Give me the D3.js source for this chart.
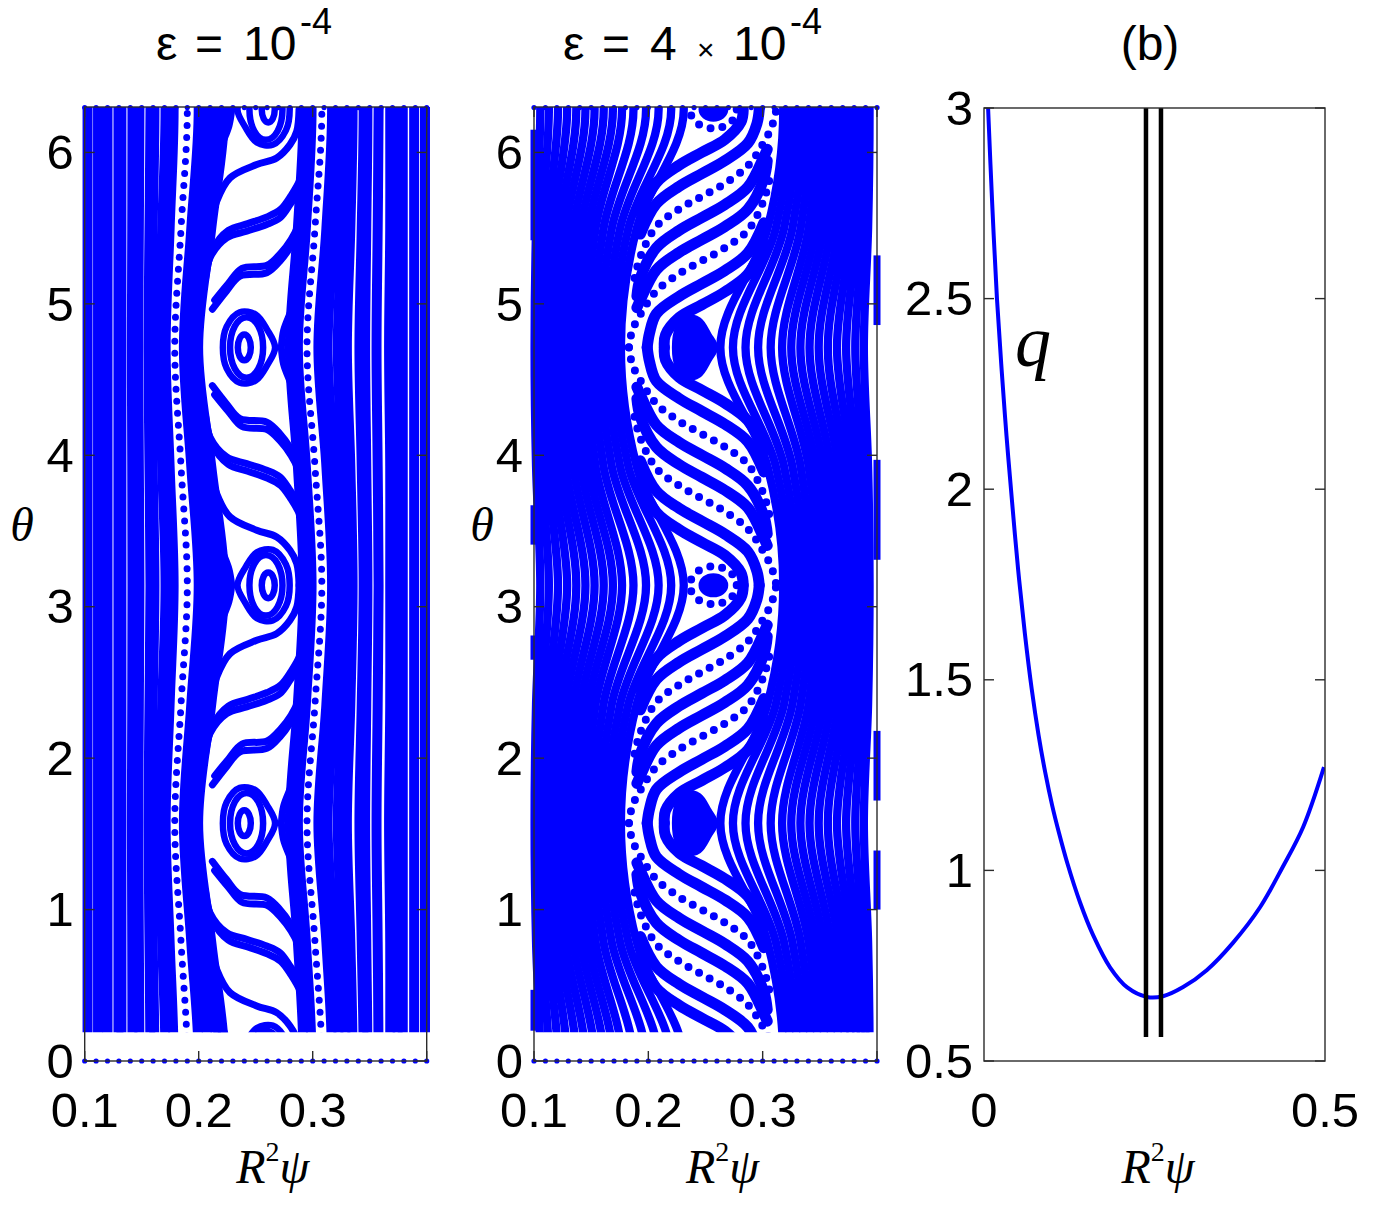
<!DOCTYPE html>
<html><head><meta charset="utf-8"><title>Poincaré sections and q profile</title>
<script src="https://d3js.org/d3.v7.min.js"></script>
<style>html,body{margin:0;padding:0;background:#fff;}</style>
</head><body>
<svg id="chart" width="1381" height="1209" xmlns="http://www.w3.org/2000/svg"></svg>
<script>
const PI = Math.PI;

// ---------------- DATA ----------------
// panel (b): safety-factor profile q(R^2 psi)
const qPsi = [0.006,0.012,0.019,0.026,0.033,0.041,0.050,0.060,0.070,0.080,0.090,0.100,0.110,0.122,0.141,0.160,0.185,0.210,0.239,0.2625,0.292,0.327,0.365,0.405,0.438,0.468,0.4985];
const qVal = [3.00,2.75,2.50,2.31,2.14,1.97,1.79,1.62,1.475,1.355,1.255,1.170,1.098,1.020,0.915,0.830,0.745,0.693,0.668,0.670,0.694,0.739,0.810,0.904,1.009,1.114,1.271];
const resonantPsi = [0.2375, 0.2595];
const resonantQ = [0.563, 3.0];

// tick labels
const thetaTicks = [0,1,2,3,4,5,6];
const psiTicks = [0.1,0.2,0.3,0.4];
const psiTickLabels = ["0.1","0.2","0.3"];
const qTicks = [0.5,1,1.5,2,2.5,3];
const qTickLabels = ["0.5","1","1.5","2","2.5","3"];
const bPsiTicks = [0,0.5];
const bPsiTickLabels = ["0","0.5"];

// Poincaré sections: initial conditions (row of points at theta = 0 and 2pi)
const startPsi = [0.10,0.11,0.12,0.13,0.14,0.15,0.16,0.17,0.18,0.19,0.20,0.21,0.22,0.23,0.24,0.25,0.26,0.27,0.28,0.29,0.30,0.31,0.32,0.33,0.34,0.35,0.36,0.37,0.38,0.39,0.40];
const thetaStart = 0.19; // lowest theta reached by the plotted orbits

// ----- eps = 1e-4 -----
// band orbits: psi at theta = 0/pi/2pi, at theta = pi/4 (odd quarters), at theta = pi/2 / 3pi/2
const bands1 = [
 [0.1025,0.1025,0.1025],[0.1117,0.1117,0.1117],[0.1200,0.1200,0.1200],[0.1296,0.1296,0.1296],
 [0.1322,0.1322,0.1322],[0.1419,0.1417,0.1414],[0.1480,0.1475,0.1470],[0.1577,0.1568,0.1560],
 [0.1612,0.1596,0.1580],[0.1709,0.1680,0.1650],[0.1780,0.1745,0.1710],
 [0.2000,0.1935,0.1870],[0.2080,0.2000,0.1920],[0.2160,0.2060,0.1960],[0.2225,0.2110,0.1995],
 [0.2920,0.2870,0.2800],[0.2990,0.2940,0.2870],[0.3170,0.3120,0.3050],[0.3230,0.3190,0.3130],
 [0.3290,0.3260,0.3220],[0.3350,0.3330,0.3300],[0.3447,0.3430,0.3410],[0.3480,0.3470,0.3460],
 [0.3578,0.3570,0.3560],[0.3680,0.3680,0.3670],[0.3745,0.3745,0.3740],[0.3790,0.3790,0.3790],
 [0.3890,0.3890,0.3890],[0.3985,0.3985,0.3985]
];
const dottedBands1 = [[0.1900,0.1845,0.1790],[0.3080,0.3020,0.2950]];
// meander curves between the island chains, read for pi <= theta <= 3pi/2
const stripes1 = [
 [[0.212,4.46],[0.2243,4.341],[0.2362,4.242],[0.2597,4.219],[0.2713,4.142],[0.2801,4.053],[0.286,3.967],[0.289,3.85]],
 [[0.214,4.40],[0.226,4.29],[0.238,4.19],[0.260,4.17],[0.272,4.09],[0.281,4.00],[0.287,3.91],[0.290,3.80]],
 [[0.204,4.33],[0.2099,4.121],[0.2246,3.989],[0.2421,3.945],[0.2597,3.901],[0.2713,3.857],[0.2801,3.769],[0.2889,3.659],[0.291,3.55]],
 [[0.206,4.26],[0.212,4.07],[0.226,3.94],[0.243,3.895],[0.260,3.85],[0.272,3.80],[0.281,3.71],[0.289,3.60],[0.291,3.50]],
 [[0.209,3.95],[0.2158,3.747],[0.2275,3.593],[0.2509,3.505],[0.2684,3.461],[0.2801,3.373],[0.286,3.285],[0.288,3.14]],
 [[0.2725,4.712],[0.2745,4.60],[0.281,4.47],[0.287,4.33]],
 [[0.2795,4.712],[0.281,4.60],[0.286,4.50],[0.290,4.38]],
 [[0.229,3.1416],[0.2265,3.25],[0.220,3.38],[0.214,3.52]],
 [[0.2215,3.1416],[0.2205,3.25],[0.215,3.35],[0.210,3.46]]
];
// island rings (closed), with the theta periods in which they repeat
const rings1 = [
 {pts:[[0.2212,4.712],[0.2245,4.85],[0.236,4.945],[0.250,4.93],[0.260,4.83],[0.267,4.712],[0.260,4.594],[0.250,4.494],[0.236,4.479],[0.2245,4.574]], shifts:[0,-PI]},
 {pts:[[0.2798,3.1416],[0.2765,3.280],[0.265,3.375],[0.251,3.360],[0.241,3.260],[0.234,3.1416],[0.241,3.024],[0.251,2.924],[0.265,2.909],[0.2765,3.004]], shifts:[0,-PI,PI]}
];
// elliptic rings: [psi centre, theta centre, psi half-width, theta half-height]
const ellipses1 = [
 {e:[0.2400,4.712,0.0057,0.085], shifts:[0,-PI]},
 {e:[0.2420,4.712,0.0145,0.200], shifts:[0,-PI]},
 {e:[0.2610,3.1416,0.0057,0.085], shifts:[0,-PI,PI]},
 {e:[0.2590,3.1416,0.0145,0.200], shifts:[0,-PI,PI]}
];

// ----- eps = 4e-4 -----
const bands2 = [
 // right of the meander zone
 [0.318,0.3042,0.263],[0.324,0.3115,0.274],[0.330,0.3187,0.285],[0.336,0.326,0.296],[0.342,0.3332,0.307],
 [0.348,0.3402,0.317],[0.354,0.3467,0.325],[0.360,0.3532,0.333],[0.366,0.3597,0.341],[0.372,0.3662,0.349],
 [0.377,0.372,0.357],[0.382,0.3777,0.365],[0.386,0.3827,0.373],[0.390,0.3877,0.381],[0.3935,0.3922,0.3885],
 // left of the meander zone
 [0.231,0.1898,0.176],[0.220,0.1825,0.170],[0.209,0.1753,0.164],[0.198,0.168,0.158],[0.187,0.1608,0.152],
 [0.177,0.1538,0.146],[0.169,0.1473,0.140],[0.161,0.1408,0.134],[0.153,0.1343,0.128],[0.145,0.1278,0.122],
 [0.137,0.122,0.117],[0.129,0.1163,0.112],[0.121,0.1113,0.108],[0.113,0.1063,0.104],[0.1055,0.1018,0.1005]
];
const stripes2 = [
 [[0.214,4.712],[0.215,4.63],[0.227,4.515],[0.247,4.43],[0.267,4.345],[0.287,4.23],[0.301,4.03]],
 [[0.199,4.712],[0.201,4.62],[0.207,4.49],[0.227,4.375],[0.247,4.29],[0.267,4.205],[0.287,4.09],[0.301,3.89]],
 [[0.190,4.45],[0.193,4.40],[0.207,4.20],[0.227,4.085],[0.247,4.00],[0.267,3.915],[0.287,3.80],[0.301,3.60],[0.304,3.48]],
 [[0.190,4.374],[0.193,4.254],[0.207,4.054],[0.227,3.939],[0.247,3.854],[0.267,3.769],[0.287,3.654],[0.301,3.454],[0.304,3.404]],
 [[0.193,3.964],[0.207,3.764],[0.227,3.649],[0.247,3.564],[0.267,3.479],[0.287,3.364],[0.295,3.234],[0.297,3.1416]],
 [[0.193,3.824],[0.207,3.624],[0.227,3.509],[0.247,3.424],[0.267,3.339],[0.281,3.224],[0.283,3.1416]]
];
const dottedStripes2 = [
 [[0.183,4.712],[0.186,4.60],[0.195,4.47],[0.207,4.34],[0.227,4.225],[0.247,4.14],[0.267,4.055],[0.287,3.94],[0.301,3.74],[0.306,3.60]],
 [[0.188,4.254],[0.193,4.114],[0.207,3.914],[0.227,3.799],[0.247,3.714],[0.267,3.629],[0.287,3.514],[0.299,3.384],[0.308,3.254],[0.312,3.1416]]
];
const blobs2 = [
 {pts:[[0.2219,4.712],[0.2245,4.84],[0.2330,4.92],[0.2450,4.90],[0.2540,4.80],[0.2598,4.712],[0.2540,4.624],[0.2450,4.524],[0.2330,4.504],[0.2245,4.584]], shifts:[0,-PI]}
];
const coreEllipses2 = [{e:[0.2569,3.1416,0.0117,0.070], shifts:[0,-PI,PI]}];
const dottedEllipses2 = [{e:[0.2569,3.1416,0.0204,0.125], shifts:[0,-PI,PI]}];
const edgeLeft2 = [[5.42,6.15],[3.41,3.67],[2.65,2.81],[0.20,0.47]];
const edgeRight2 = [[4.86,5.32],[3.31,3.97],[1.72,2.18],[1.00,1.39]];

// ---------------- DRAWING ----------------
const svg = d3.select("#chart");
const defs = svg.append("defs");
const SANS = "'Liberation Sans', Arial, Helvetica, sans-serif";
const SERIF = "'Liberation Serif', 'Times New Roman', serif";
const BLUE = "#0000ff";
const FRAME = "#2b2b2b";
const TICKFS = 49;
const XTICK_Y = 1127;

const quarterMaps = [t => t, t => 3*PI - t, t => t - PI, t => 2*PI - t];
const expandQuarter = curves => curves.flatMap(c => quarterMaps.map(m => c.map(([p,t]) => [p, m(t)])));
const shiftAll = items => items.flatMap(it => it.shifts.map(s => ({...it, s})));
const phaseIdx = [0,1,2,1];
const bandNodes = b => d3.range(-1, 10).map(k => [b[phaseIdx[((k % 4) + 4) % 4]], k*PI/4]);

function drawPoincare(P) {
  const x = d3.scaleLinear().domain([0.1, 0.4]).range(P.xr);
  const y = d3.scaleLinear().domain([0, 6.3]).range([1061, 107]);
  const clipId = "clip-" + P.id;
  defs.append("clipPath").attr("id", clipId).append("rect")
    .attr("x", x(0.1) - 10).attr("y", y(6.3))
    .attr("width", x(0.4) - x(0.1) + 20).attr("height", y(thetaStart) - y(6.3));
  const g = svg.append("g");
  const gc = g.append("g").attr("clip-path", `url(#${clipId})`);
  const line = d3.line().x(d => x(d[0])).y(d => y(d[1])).curve(d3.curveCatmullRom.alpha(0.5));
  const closed = d3.line().x(d => x(d[0])).y(d => y(d[1])).curve(d3.curveCatmullRomClosed.alpha(0.5));

  gc.selectAll("path.band").data(P.bands).join("path").attr("class","band")
    .attr("d", b => line(bandNodes(b))).attr("fill","none")
    .attr("stroke", BLUE).attr("stroke-width", P.bandW);

  gc.selectAll("path.dband").data(P.dottedBands || []).join("path").attr("class","dband")
    .attr("d", b => line(bandNodes(b))).attr("fill","none")
    .attr("stroke", BLUE).attr("stroke-width", P.dotW).attr("stroke-linecap","round")
    .attr("stroke-dasharray", `0 ${P.dotGap}`);

  gc.selectAll("path.stripe").data(expandQuarter(P.stripes)).join("path").attr("class","stripe")
    .attr("d", line).attr("fill","none").attr("stroke", BLUE)
    .attr("stroke-width", P.stripeW).attr("stroke-linecap","round");

  gc.selectAll("path.dstripe").data(expandQuarter(P.dottedStripes || [])).join("path").attr("class","dstripe")
    .attr("d", line).attr("fill","none").attr("stroke", BLUE)
    .attr("stroke-width", P.dotW).attr("stroke-linecap","round")
    .attr("stroke-dasharray", `0 ${P.dotGap}`);

  gc.selectAll("path.ring").data(shiftAll(P.rings || [])).join("path").attr("class","ring")
    .attr("d", r => closed(r.pts.map(([p,t]) => [p, t + r.s])))
    .attr("fill","none").attr("stroke", BLUE).attr("stroke-width", P.ringW);

  gc.selectAll("path.blob").data(shiftAll(P.blobs || [])).join("path").attr("class","blob")
    .attr("d", r => closed(r.pts.map(([p,t]) => [p, t + r.s])))
    .attr("fill", BLUE).attr("stroke", BLUE).attr("stroke-width", 3);

  const ell = (sel, data, cls) => sel.selectAll("ellipse." + cls).data(shiftAll(data)).join("ellipse").attr("class", cls)
    .attr("cx", d => x(d.e[0])).attr("cy", d => y(d.e[1] + d.s))
    .attr("rx", d => x(d.e[0] + d.e[2]) - x(d.e[0]))
    .attr("ry", d => y(d.e[1] + d.s) - y(d.e[1] + d.s + d.e[3]));
  ell(gc, P.ellipses || [], "ring-e").attr("fill","none").attr("stroke", BLUE).attr("stroke-width", P.ringW);
  ell(gc, P.coreEllipses || [], "core-e").attr("fill", BLUE).attr("stroke", BLUE).attr("stroke-width", 3);
  ell(gc, P.dottedEllipses || [], "dot-e").attr("fill","none").attr("stroke", BLUE)
    .attr("stroke-width", P.dotW).attr("stroke-linecap","round").attr("stroke-dasharray", `0 ${P.dotGap}`);

  // orbit pieces lying on the side edges
  const edge = (data, psi) => g.selectAll(null).data(data).join("line")
    .attr("x1", x(psi)).attr("x2", x(psi)).attr("y1", d => y(d[0])).attr("y2", d => y(d[1]))
    .attr("stroke", BLUE).attr("stroke-width", 7);
  if (P.edgeLeft) edge(P.edgeLeft, 0.1);
  if (P.edgeRight) edge(P.edgeRight, 0.4);

  // starting points at theta = 0 and theta = 2pi
  g.selectAll("circle.start0").data(startPsi).join("circle").attr("class","start0")
    .attr("cx", d => x(d)).attr("cy", y(0)).attr("r", 2.6).attr("fill", BLUE);
  g.selectAll("circle.start1").data(startPsi).join("circle").attr("class","start1")
    .attr("cx", d => x(d)).attr("cy", y(2*PI) - 2).attr("r", 2.6).attr("fill", BLUE);

  // frame + ticks
  const [x0, x1] = x.range(), [y0, y1] = y.range();
  g.append("rect").attr("x", x0).attr("y", y1).attr("width", x1 - x0).attr("height", y0 - y1)
    .attr("fill","none").attr("stroke", FRAME).attr("stroke-width", 1.4);
  thetaTicks.forEach(t => {
    g.append("line").attr("x1", x0).attr("x2", x0 + 10).attr("y1", y(t)).attr("y2", y(t)).attr("stroke", FRAME).attr("stroke-width", 1.4);
    g.append("line").attr("x1", x1).attr("x2", x1 - 10).attr("y1", y(t)).attr("y2", y(t)).attr("stroke", FRAME).attr("stroke-width", 1.4);
  });
  psiTicks.forEach(p => {
    g.append("line").attr("x1", x(p)).attr("x2", x(p)).attr("y1", y0).attr("y2", y0 - 10).attr("stroke", FRAME).attr("stroke-width", 1.4);
    g.append("line").attr("x1", x(p)).attr("x2", x(p)).attr("y1", y1).attr("y2", y1 + 10).attr("stroke", FRAME).attr("stroke-width", 1.4);
  });
  g.selectAll("text.yt").data(thetaTicks).join("text").attr("class","yt")
    .attr("x", x0 - 11).attr("y", d => y(d)).attr("dy", "0.34em").attr("text-anchor","end")
    .attr("font-family", SANS).attr("font-size", TICKFS).text(d => d);
  g.selectAll("text.xt").data(psiTickLabels).join("text").attr("class","xt")
    .attr("x", (d,i) => x(psiTicks[i])).attr("y", XTICK_Y).attr("text-anchor","middle")
    .attr("font-family", SANS).attr("font-size", TICKFS).text(d => d);

  // axis labels
  g.append("text").attr("x", P.thetaX).attr("y", 541).attr("text-anchor","middle")
    .attr("font-family", SERIF).attr("font-style","italic").attr("font-size", 48).text("θ");
  psiLabel(g, (x0 + x1) / 2 + 17);

  // title pieces (main line baseline 60, exponent baseline 34)
  P.title.forEach(([txt, px, sup]) => g.append("text").attr("x", px).attr("y", sup ? 34 : 60)
    .attr("font-family", SANS).attr("font-size", sup ? 36 : (txt === "×" ? 30 : 48)).text(txt));
}

function psiLabel(g, cx) {
  const t = g.append("text").attr("x", cx).attr("y", 1183).attr("text-anchor","middle")
    .attr("font-family", SERIF).attr("font-size", 48);
  t.append("tspan").attr("font-style","italic").text("R");
  t.append("tspan").attr("font-size", 28).attr("dy", -22).text("2");
  t.append("tspan").attr("font-style","italic").attr("dy", 22).text("ψ");
}

drawPoincare({
  id: "p1", xr: [84.7, 426.7], bands: bands1, dottedBands: dottedBands1, stripes: stripes1,
  rings: rings1, ellipses: ellipses1,
  bandW: 10, stripeW: 7, ringW: 6.5, dotW: 7, dotGap: 12, thetaX: 22,
  title: [["ε",156,false],["=",195,false],["10",243,false],["-4",300,true]]
});
drawPoincare({
  id: "p2", xr: [534, 877], bands: bands2, stripes: stripes2, dottedStripes: dottedStripes2,
  blobs: blobs2, coreEllipses: coreEllipses2, dottedEllipses: dottedEllipses2,
  edgeLeft: edgeLeft2, edgeRight: edgeRight2,
  bandW: 8.3, stripeW: 11, ringW: 8, dotW: 8, dotGap: 12, thetaX: 482,
  title: [["ε",563,false],["=",602,false],["4",650,false],["×",697,false],["10",733,false],["-4",790,true]]
});

// ---------- panel (b) ----------
(function () {
  const x = d3.scaleLinear().domain([0, 0.5]).range([984, 1325]);
  const y = d3.scaleLinear().domain([0.5, 3]).range([1061, 108]);
  const g = svg.append("g");
  defs.append("clipPath").attr("id","clip-b").append("rect")
    .attr("x", 984).attr("y", 108).attr("width", 341).attr("height", 953);
  const gc = g.append("g").attr("clip-path","url(#clip-b)");
  const qData = qPsi.map((p, i) => [p, qVal[i]]);
  gc.append("path").datum(qData)
    .attr("d", d3.line().x(d => x(d[0])).y(d => y(d[1])).curve(d3.curveCatmullRom.alpha(0.5)))
    .attr("fill","none").attr("stroke", BLUE).attr("stroke-width", 4);
  gc.selectAll("line.res").data(resonantPsi).join("line").attr("class","res")
    .attr("x1", d => x(d)).attr("x2", d => x(d)).attr("y1", y(resonantQ[0])).attr("y2", y(resonantQ[1]))
    .attr("stroke","#000").attr("stroke-width", 4.5);
  g.append("rect").attr("x", 984).attr("y", 108).attr("width", 341).attr("height", 953)
    .attr("fill","none").attr("stroke", FRAME).attr("stroke-width", 1.4);
  qTicks.forEach(q => {
    g.append("line").attr("x1", 984).attr("x2", 994).attr("y1", y(q)).attr("y2", y(q)).attr("stroke", FRAME).attr("stroke-width", 1.4);
    g.append("line").attr("x1", 1325).attr("x2", 1315).attr("y1", y(q)).attr("y2", y(q)).attr("stroke", FRAME).attr("stroke-width", 1.4);
  });
  g.selectAll("text.yt").data(qTickLabels).join("text").attr("class","yt")
    .attr("x", 973).attr("y", (d,i) => y(qTicks[i])).attr("dy","0.34em").attr("text-anchor","end")
    .attr("font-family", SANS).attr("font-size", TICKFS).text(d => d);
  g.selectAll("text.xt").data(bPsiTickLabels).join("text").attr("class","xt")
    .attr("x", (d,i) => x(bPsiTicks[i])).attr("y", XTICK_Y).attr("text-anchor","middle")
    .attr("font-family", SANS).attr("font-size", TICKFS).text(d => d);
  g.append("text").attr("x", 1033).attr("y", 366).attr("text-anchor","middle")
    .attr("font-family", SERIF).attr("font-style","italic").attr("font-size", 72).text("q");
  psiLabel(g, 1158);
  g.append("text").attr("x", 1150).attr("y", 60).attr("text-anchor","middle")
    .attr("font-family", SANS).attr("font-size", 48).text("(b)");
})();
</script>
</body></html>
